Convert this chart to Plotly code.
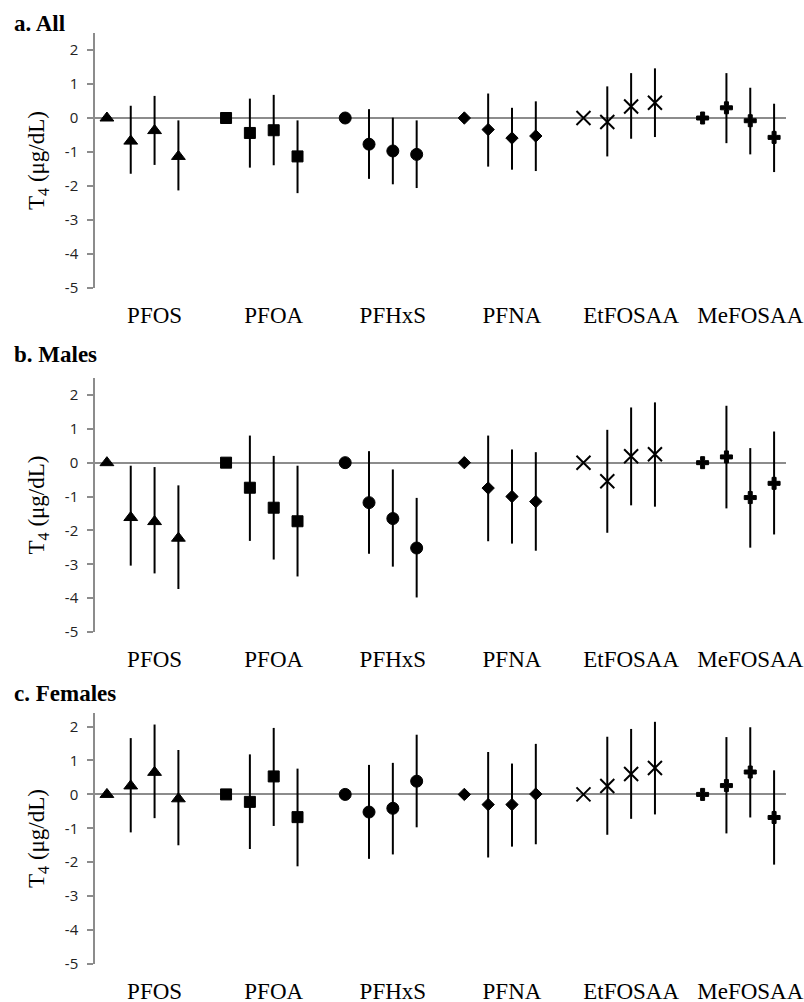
import plotly.graph_objects as go

chemicals = ["PFOS", "PFOA", "PFHxS", "PFNA", "EtFOSAA", "MeFOSAA"]
symbols = ["triangle-up", "square", "circle", "diamond", "x-thin", "cross"]
marker_sizes = [12, 11, 12, 9.5, 14, 10]
panel_titles = ["a. All", "b. Males", "c. Females"]
ytick_vals = [-5, -4, -3, -2, -1, 0, 1, 2]
ytick_text = ["-5", "-4", "-3", "-2", "-1", "0", "1", "2"]

# a. All  (per chemical: reference quartile + 3 quartiles)
est_all = [[0, -0.68, -0.37, -1.13], [0, -0.44, -0.36, -1.13], [0, -0.77, -0.97, -1.07],
           [0, -0.34, -0.59, -0.53], [0, -0.12, 0.34, 0.45], [0, 0.30, -0.08, -0.57]]
hi_all = [[0, 0.36, 0.65, -0.07], [0, 0.57, 0.68, -0.07], [0, 0.26, 0.01, -0.07],
          [0, 0.72, 0.30, 0.49], [0, 0.93, 1.32, 1.46], [0, 1.32, 0.89, 0.42]]
lo_all = [[0, -1.64, -1.38, -2.13], [0, -1.46, -1.39, -2.21], [0, -1.79, -1.95, -2.06],
          [0, -1.43, -1.52, -1.56], [0, -1.13, -0.61, -0.56], [0, -0.74, -1.07, -1.59]]

# b. Males
est_m = [[0, -1.62, -1.74, -2.23], [0, -0.74, -1.33, -1.73], [0, -1.18, -1.65, -2.52],
         [0, -0.75, -1.00, -1.15], [0, -0.55, 0.19, 0.25], [0, 0.17, -1.03, -0.61]]
hi_m = [[0, -0.09, -0.13, -0.67], [0, 0.80, 0.20, -0.09], [0, 0.34, -0.20, -1.04],
        [0, 0.80, 0.39, 0.31], [0, 0.97, 1.63, 1.78], [0, 1.68, 0.43, 0.92]]
lo_m = [[0, -3.04, -3.27, -3.73], [0, -2.31, -2.86, -3.36], [0, -2.69, -3.07, -3.98],
        [0, -2.32, -2.39, -2.60], [0, -2.07, -1.26, -1.30], [0, -1.35, -2.51, -2.12]]

# c. Females
est_f = [[0, 0.25, 0.65, -0.13], [0, -0.22, 0.53, -0.67], [0, -0.52, -0.41, 0.39],
         [0, -0.30, -0.30, 0.01], [0, 0.25, 0.60, 0.78], [0, 0.26, 0.66, -0.68]]
hi_f = [[0, 1.66, 2.06, 1.31], [0, 1.18, 1.96, 0.76], [0, 0.87, 0.93, 1.76],
        [0, 1.25, 0.91, 1.49], [0, 1.70, 1.93, 2.14], [0, 1.69, 1.98, 0.71]]
lo_f = [[0, -1.12, -0.70, -1.50], [0, -1.61, -0.93, -2.12], [0, -1.90, -1.77, -0.97],
        [0, -1.86, -1.54, -1.47], [0, -1.19, -0.72, -0.59], [0, -1.15, -0.68, -2.07]]

panels = [(est_all, lo_all, hi_all), (est_m, lo_m, hi_m), (est_f, lo_f, hi_f)]

W, H = 804, 1002
# pixel layout of each panel: (top px, bottom px, y max)
panel_px = [(33, 288, 2.5), (378, 632, 2.5), (713, 964, 2.4)]
title_px = [23, 355, 693]
x_left, x_right = 95, 786

fig = go.Figure()
serif = "Liberation Serif, Times New Roman, serif"

for p, (est, lo, hi) in enumerate(panels):
    xa = "x" if p == 0 else f"x{p+1}"
    ya = "y" if p == 0 else f"y{p+1}"
    for g, chem in enumerate(chemicals):
        xs = [g * 5 + j for j in range(4)]
        ys = est[g]
        plus = [h - e for h, e in zip(hi[g], ys)]
        minus = [e - l for e, l in zip(ys, lo[g])]
        sym = symbols[g]
        marker = dict(symbol=sym, size=marker_sizes[g], color="black",
                      line=dict(color="black", width=2 if sym == "x-thin" else 1))
        fig.add_trace(go.Scatter(
            x=xs, y=ys, mode="markers", xaxis=xa, yaxis=ya, showlegend=False,
            marker=marker,
            error_y=dict(type="data", symmetric=False, array=plus, arrayminus=minus,
                         color="black", thickness=2, width=0),
            name=chem))

    top, bot, ymax = panel_px[p]
    dom_y = [1 - bot / H, 1 - top / H]
    xkey = "xaxis" if p == 0 else f"xaxis{p+1}"
    ykey = "yaxis" if p == 0 else f"yaxis{p+1}"
    fig.update_layout(**{
        xkey: dict(domain=[x_left / W, x_right / W], range=[-0.5, 28.5], anchor=ya,
                   automargin=False,
                   showgrid=False, zeroline=False, showline=False,
                   tickmode="array", tickvals=[g * 5 + 2 for g in range(6)],
                   ticktext=chemicals, ticks="outside", ticklen=6,
                   tickcolor="rgba(0,0,0,0)",
                   tickfont=dict(family=serif, size=23, color="black")),
        ykey: dict(domain=dom_y, range=[-5, ymax], anchor=xa, automargin=False,
                   showgrid=False, zeroline=True, zerolinecolor="#8c8c8c",
                   zerolinewidth=1.5, showline=True, linecolor="#8c8c8c", linewidth=1.5,
                   ticks="outside", ticklen=6, tickcolor="#8c8c8c", tickwidth=1.5,
                   tickmode="array", tickvals=ytick_vals, ticktext=ytick_text,
                   ticklabelstandoff=6,
                   tickfont=dict(family="Open Sans, sans-serif", size=15, color="#222"),
                   title=dict(text="T<sub>4</sub> (μg/dL)", standoff=14,
                              font=dict(family=serif, size=23, color="black"))),
    })
    fig.add_annotation(text=f"<b>{panel_titles[p]}</b>", xref="paper", yref="paper",
                       x=12 / W, y=1 - title_px[p] / H, xanchor="left", yanchor="middle",
                       showarrow=False, font=dict(family=serif, size=23, color="black"))

fig.update_layout(width=W, height=H, margin=dict(l=0, r=0, t=0, b=0),
                  plot_bgcolor="white", paper_bgcolor="white")
fig.write_html("out.html", config={"displayModeBar": False},
               post_script="document.body.style.margin='0px';document.body.style.overflow='hidden';")
